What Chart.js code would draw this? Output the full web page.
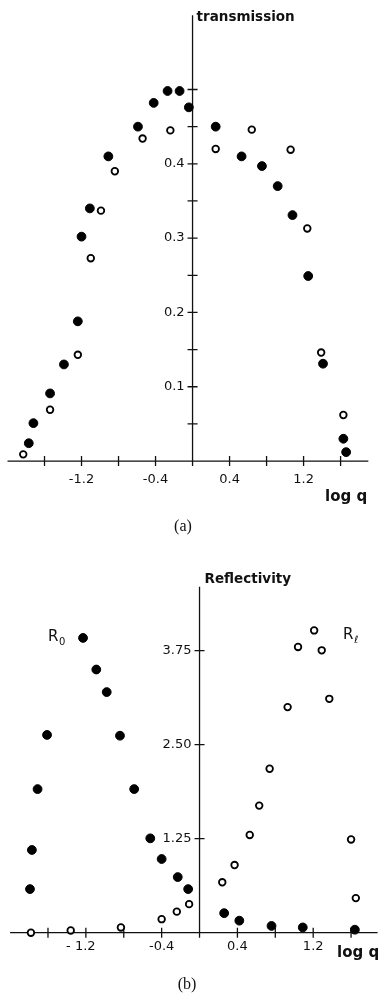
<!DOCTYPE html>
<html>
<head>
<meta charset="utf-8">
<script src="https://cdn.jsdelivr.net/npm/chart.js@4/dist/chart.umd.min.js"></script>
<style>
  body { margin: 0; background: #fff; }
  .wrap { position: absolute; left: 0; width: 383px; }
</style>
</head>
<body>
<div class="wrap" style="top:0"><canvas id="cha" width="383" height="540"></canvas></div>
<div class="wrap" style="top:540px"><canvas id="chb" width="383" height="456"></canvas></div>
<script>
// (a) transmission vs log q
const transFilledX = [-1.77, -1.72, -1.54, -1.39, -1.24, -1.20, -1.11, -0.91, -0.59, -0.42, -0.27, -0.14, -0.04, 0.25, 0.53, 0.75, 0.92, 1.08, 1.25, 1.41, 1.63, 1.66];
const transFilledY = [0.024, 0.051, 0.091, 0.130, 0.188, 0.302, 0.340, 0.410, 0.450, 0.482, 0.498, 0.498, 0.476, 0.450, 0.410, 0.397, 0.370, 0.331, 0.249, 0.131, 0.030, 0.012];
const transOpenX = [-1.83, -1.54, -1.24, -1.10, -0.99, -0.84, -0.54, -0.24, 0.25, 0.64, 1.06, 1.24, 1.39, 1.63];
const transOpenY = [0.009, 0.069, 0.143, 0.273, 0.337, 0.390, 0.434, 0.445, 0.420, 0.446, 0.419, 0.313, 0.146, 0.062];

// (b) reflectivity vs log q
const reflR0X = [-1.79, -1.77, -1.71, -1.61, -1.23, -1.09, -0.98, -0.84, -0.69, -0.52, -0.40, -0.23, -0.12, 0.26, 0.42, 0.76, 1.09, 1.64];
const reflR0Y = [0.58, 1.10, 1.91, 2.63, 3.92, 3.50, 3.20, 2.62, 1.91, 1.255, 0.98, 0.74, 0.58, 0.26, 0.16, 0.09, 0.07, 0.04];
const reflRlX = [-1.78, -1.36, -0.83, -0.40, -0.24, -0.11, 0.24, 0.37, 0.53, 0.63, 0.74, 0.93, 1.04, 1.21, 1.29, 1.37, 1.60, 1.65];
const reflRlY = [0.0, 0.03, 0.07, 0.18, 0.28, 0.38, 0.67, 0.90, 1.30, 1.69, 2.18, 3.00, 3.80, 4.02, 3.755, 3.11, 1.24, 0.46];

// axis ticks
const xTicks = [-1.6, -1.2, -0.8, -0.4, 0.4, 0.8, 1.2, 1.6];
const aXLabels = [-1.2, -0.4, 0.4, 1.2];
const aXLabelText = ['-1.2', '-0.4', '0.4', '1.2'];
const aYTicks = [0.05, 0.1, 0.15, 0.2, 0.25, 0.3, 0.35, 0.4, 0.45, 0.5];
const aYLabels = [0.1, 0.2, 0.3, 0.4];
const aYLabelText = ['0.1', '0.2', '0.3', '0.4'];
const bXLabels = [-1.2, -0.4, 0.4, 1.2];
const bXLabelText = ['- 1.2', '-0.4', '0.4', '1.2'];
const bYTicks = [1.25, 2.5, 3.75];
const bYLabelText = ['1.25', '2.50', '3.75'];

function pts(xs, ys) {
  return xs.map((x, i) => ({x: x, y: ys[i]}));
}

const crossAxes = {
  id: 'crossAxes',
  beforeDatasetsDraw(chart, args, o) {
    const ctx = chart.ctx;
    const x = chart.scales.x, y = chart.scales.y;
    const x0 = x.getPixelForValue(0), y0 = y.getPixelForValue(0);
    ctx.save();
    ctx.strokeStyle = '#111';
    ctx.lineWidth = 1.3;
    ctx.beginPath();
    ctx.moveTo(x.getPixelForValue(o.xFrom), y0);
    ctx.lineTo(x.getPixelForValue(o.xTo), y0);
    ctx.moveTo(x0, y.getPixelForValue(o.yTo));
    ctx.lineTo(x0, y0 + 5);
    o.xTicks.forEach(v => {
      const px = x.getPixelForValue(v);
      ctx.moveTo(px, y0 - 5);
      ctx.lineTo(px, y0 + 5);
    });
    o.yTicks.forEach(v => {
      const py = y.getPixelForValue(v);
      ctx.moveTo(x0 - 5, py);
      ctx.lineTo(x0 + 5, py);
    });
    ctx.stroke();

    ctx.fillStyle = '#111';
    ctx.font = "13px 'DejaVu Sans'";
    ctx.textAlign = 'center';
    ctx.textBaseline = 'middle';
    o.xLabels.forEach((v, i) => {
      ctx.fillText(o.xLabelText[i], x.getPixelForValue(v) + (o.xLabelShift[i] || 0), y0 + o.xLabelGap);
    });
    ctx.textAlign = 'right';
    o.yLabels.forEach((v, i) => {
      ctx.fillText(o.yLabelText[i], x0 - 8, y.getPixelForValue(v));
    });

    // axis titles
    ctx.textAlign = 'left';
    ctx.font = "bold 13.5px 'DejaVu Sans'";
    ctx.fillText(o.yTitle, x0 + o.yTitlePos[0], o.yTitlePos[1]);
    ctx.font = "bold 15px 'DejaVu Sans'";
    ctx.fillText('log q', o.xTitlePos[0], o.xTitlePos[1]);

    // panel letter
    ctx.textAlign = 'center';
    ctx.font = "16px 'Liberation Serif'";
    ctx.fillText(o.panel, o.panelPos[0], o.panelPos[1]);

    // series labels
    (o.notes || []).forEach(n => {
      ctx.textAlign = 'left';
      ctx.font = "15px 'DejaVu Sans'";
      ctx.fillText('R', n.x, n.y);
      const w = ctx.measureText('R').width;
      ctx.font = "10px 'DejaVu Sans'";
      ctx.fillText(n.sub, n.x + w + 0.5, n.y + 5);
    });
    ctx.restore();
  }
};

const filledStyle = {
  backgroundColor: '#000', borderColor: '#000', borderWidth: 1,
  pointRadius: 4.4, pointHoverRadius: 4.4
};
const openStyle = {
  backgroundColor: '#fff', borderColor: '#000', borderWidth: 1.8,
  pointRadius: 3.3, pointHoverRadius: 3.3
};

function makeChart(id, datasets, scales, padding, axOpts) {
  return new Chart(document.getElementById(id), {
    type: 'scatter',
    data: { datasets: datasets },
    options: {
      responsive: false,
      animation: false,
      devicePixelRatio: 1,
      layout: { padding: padding },
      scales: {
        x: { type: 'linear', min: scales.xMin, max: scales.xMax, display: false },
        y: { type: 'linear', min: scales.yMin, max: scales.yMax, display: false }
      },
      plugins: {
        legend: { display: false },
        tooltip: { enabled: false },
        crossAxes: axOpts
      }
    },
    plugins: [crossAxes]
  });
}

makeChart('cha', [
    Object.assign({ label: 'filled', data: pts(transFilledX, transFilledY) }, filledStyle),
    Object.assign({ label: 'open', data: pts(transOpenX, transOpenY) }, openStyle)
  ],
  { xMin: -2, xMax: 2, yMin: -0.05, yMax: 0.6 },
  { left: 7.5, right: 0.5, top: 15.2, bottom: 41.8 },
  {
    xFrom: -2.0, xTo: 1.9, yTo: 0.6,
    xTicks: xTicks, yTicks: aYTicks,
    xLabels: aXLabels, xLabelText: aXLabelText, xLabelShift: [], xLabelGap: 19,
    yLabels: aYLabels, yLabelText: aYLabelText,
    yTitle: 'transmission', yTitlePos: [4, 17],
    xTitlePos: [325, 497],
    panel: '(a)', panelPos: [183, 527]
  });

makeChart('chb', [
    Object.assign({ label: 'R0', data: pts(reflR0X, reflR0Y) }, filledStyle),
    Object.assign({ label: 'Rl', data: pts(reflRlX, reflRlY) }, openStyle)
  ],
  { xMin: -2, xMax: 1.88, yMin: -0.5, yMax: 4.6 },
  { left: 10.1, right: 1.2, top: 46.8, bottom: 25.7 },
  {
    xFrom: -2.0, xTo: 1.88, yTo: 4.6,
    xTicks: xTicks, yTicks: bYTicks,
    xLabels: bXLabels, xLabelText: bXLabelText, xLabelShift: [-5, 0, 0, 0], xLabelGap: 14,
    yLabels: bYTicks, yLabelText: bYLabelText,
    yTitle: 'Reflectivity', yTitlePos: [5, 39],
    xTitlePos: [337, 413],
    panel: '(b)', panelPos: [187, 445],
    notes: [{ x: 48, y: 97, sub: '0' }, { x: 343, y: 95, sub: 'ℓ' }]
  });
</script>
</body>
</html>
